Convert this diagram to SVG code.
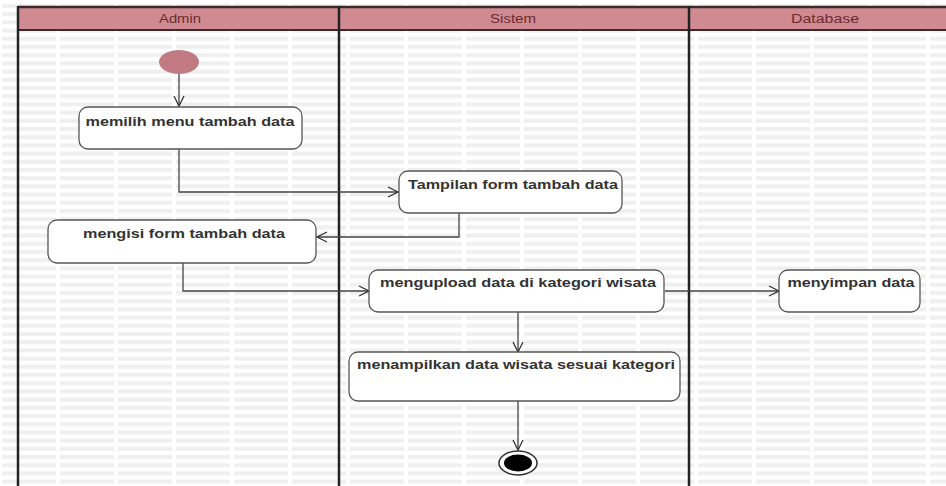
<svg xmlns="http://www.w3.org/2000/svg" width="946" height="486" viewBox="0 0 946 486">
  <defs>
    <!-- faint ruled background -->
    <pattern id="grid" x="0" y="2" width="58" height="8.2" patternUnits="userSpaceOnUse">
      <rect x="2" y="2" width="54" height="4" fill="#efefef"/>
    </pattern>
    <marker id="open" viewBox="0 0 12 12" refX="11" refY="6" markerWidth="12" markerHeight="12" markerUnits="userSpaceOnUse" orient="auto">
      <path d="M1,1 L11,6 L1,11" fill="none" stroke="#333" stroke-width="1.3"/>
    </marker>
    <style>
      .lane { stroke: #222; stroke-width: 2.5; fill: none; }
      .head { fill: #cf8b91; }
      .headtxt { font-family: "Liberation Sans", Arial, sans-serif; font-size: 12px; fill: #6e2a30; text-anchor: middle; }
      .act { fill: #ffffff; stroke: #555; stroke-width: 1.3; }
      .lbl { font-family: "Liberation Sans", Arial, sans-serif; font-size: 13px; font-weight: bold; fill: #333; text-anchor: middle; }
      .flow { fill: none; stroke: #444; stroke-width: 1.3; marker-end: url(#open); }
    </style>
  </defs>

  <rect x="0" y="0" width="946" height="486" fill="#ffffff"/>
  <rect x="0" y="0" width="946" height="486" fill="url(#grid)"/>

  <!-- swimlane header band -->
  <g id="lanes">
    <rect class="head" x="18" y="7" width="928" height="23"/>
    <line x1="18" y1="7" x2="946" y2="7" stroke="#3a2a2b" stroke-width="2.5"/>
    <line x1="18" y1="30" x2="946" y2="30" stroke="#3a2a2b" stroke-width="2"/>
    <line class="lane" x1="18" y1="6" x2="18" y2="486"/>
    <line class="lane" x1="339" y1="6" x2="339" y2="486"/>
    <line class="lane" x1="689" y1="6" x2="689" y2="486"/>
    <text class="headtxt" x="180" y="23" textLength="42" lengthAdjust="spacingAndGlyphs">Admin</text>
    <text class="headtxt" x="513" y="23" textLength="46" lengthAdjust="spacingAndGlyphs">Sistem</text>
    <text class="headtxt" x="825" y="23" textLength="68" lengthAdjust="spacingAndGlyphs">Database</text>
  </g>

  <!-- connectors -->
  <g id="connectors">
    <path class="flow" d="M179,74 L179,106"/>
    <path class="flow" d="M179,149 L179,192 L398,192"/>
    <path class="flow" d="M459,213 L459,237 L317,237"/>
    <path class="flow" d="M183,263 L183,291 L369,291"/>
    <path class="flow" d="M665,291 L779,291"/>
    <path class="flow" d="M518,312 L518,352"/>
    <path class="flow" d="M518,401 L518,450"/>
  </g>

  <g id="start">
    <ellipse cx="179" cy="62" rx="20" ry="12" fill="#c17a82"/>
  </g>

  <g id="memilih-menu">
    <rect class="act" x="79" y="107" width="223" height="42" rx="9"/>
    <text class="lbl" x="190" y="126" textLength="209" lengthAdjust="spacingAndGlyphs">memilih menu tambah data</text>
  </g>

  <g id="tampilan-form">
    <rect class="act" x="399" y="171" width="223" height="42" rx="9"/>
    <text class="lbl" x="513" y="189" textLength="210" lengthAdjust="spacingAndGlyphs">Tampilan form tambah data</text>
  </g>

  <g id="mengisi-form">
    <rect class="act" x="48" y="220" width="268" height="43" rx="9"/>
    <text class="lbl" x="184" y="238" textLength="202" lengthAdjust="spacingAndGlyphs">mengisi form tambah data</text>
  </g>

  <g id="mengupload-data">
    <rect class="act" x="369" y="270" width="295" height="42" rx="9"/>
    <text class="lbl" x="518" y="287" textLength="276" lengthAdjust="spacingAndGlyphs">mengupload data di kategori wisata</text>
  </g>

  <g id="menyimpan-data">
    <rect class="act" x="779" y="270" width="141" height="42" rx="9"/>
    <text class="lbl" x="851" y="287" textLength="127" lengthAdjust="spacingAndGlyphs">menyimpan data</text>
  </g>

  <g id="menampilkan-data">
    <rect class="act" x="349" y="352" width="331" height="49" rx="9"/>
    <text class="lbl" x="516" y="369" textLength="318" lengthAdjust="spacingAndGlyphs">menampilkan data wisata sesuai kategori</text>
  </g>

  <g id="end">
    <ellipse cx="518" cy="463" rx="19" ry="12" fill="#ffffff" stroke="#333" stroke-width="1.5"/>
    <ellipse cx="518" cy="463" rx="14" ry="8.5" fill="#000000"/>
  </g>
</svg>
